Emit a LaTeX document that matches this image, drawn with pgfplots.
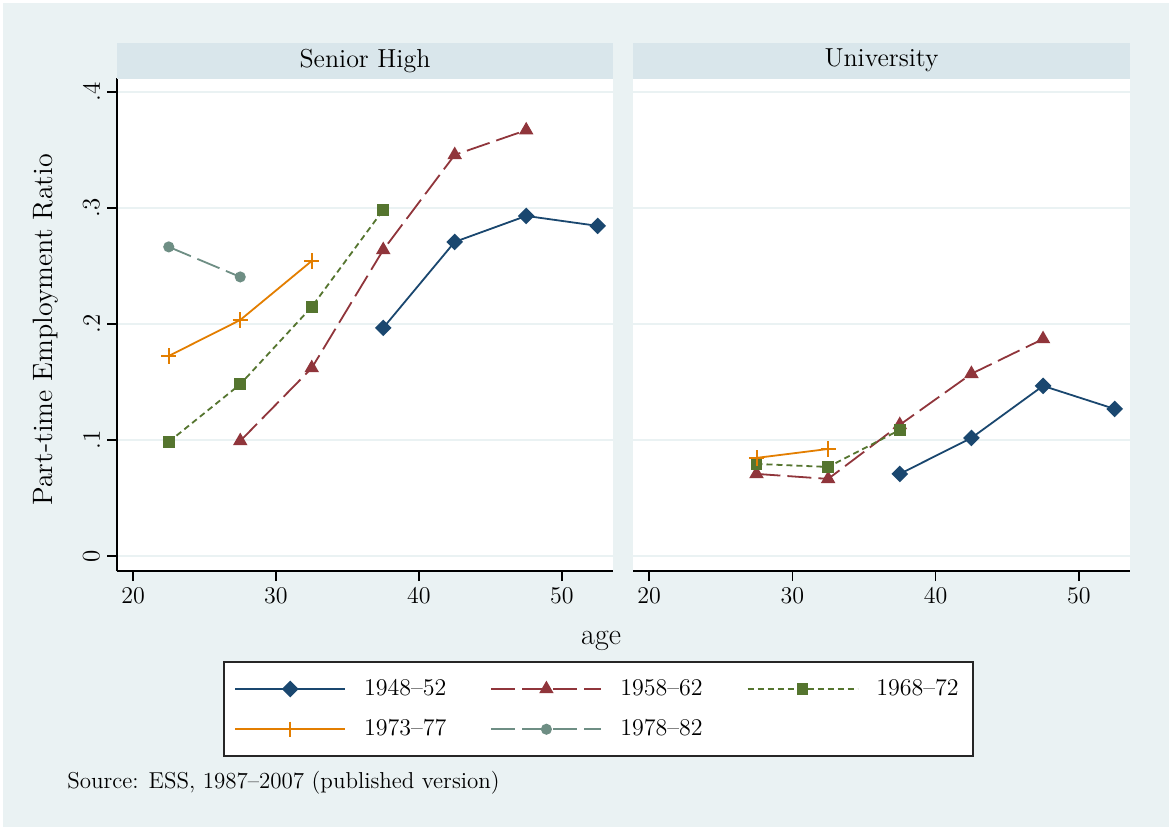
\documentclass[border=0pt]{standalone}
\usepackage{pgfplots}
\pgfplotsset{compat=1.18}
\definecolor{bgc}{HTML}{EAF2F3}
\definecolor{stripc}{HTML}{D9E6EB}
\definecolor{gridc}{HTML}{EAF2F3}
\definecolor{cnavy}{HTML}{1A476F}
\definecolor{cmaroon}{HTML}{90353B}
\definecolor{cgreen}{HTML}{55752F}
\definecolor{corange}{HTML}{E37E00}
\definecolor{cteal}{HTML}{6E8E84}
\pgfplotsset{
  panel/.style={
    scale only axis, width=248pt, height=246.5pt,
    xmin=18.88, xmax=53.57, ymin=-0.013, ymax=0.412,
    axis x line*=bottom, axis y line*=left,
    axis line style={-, black, line width=0.8pt},
    xtick={20,30,40,50}, ytick={0,0.1,0.2,0.3,0.4},
    tick align=outside, major tick length=5pt,
    major tick style={black, line width=0.8pt},
    ymajorgrids, grid style={gridc, line width=1pt},
    axis background/.style={fill=white},
    ticklabel style={font=\fontsize{12.5}{14}\selectfont},
    title style={at={(0.5,1)}, anchor=south, yshift=-6.5pt, fill=stripc,
      minimum width=248pt, minimum height=18pt, inner sep=0pt,
      font=\fontsize{13}{15}\selectfont},
    clip=false,
  },
  s1/.style={cnavy, line width=0.9pt, mark=square*, mark size=2.5pt, mark options={rotate=45, solid, fill=cnavy}},
  s2/.style={cmaroon, line width=0.9pt, dash pattern=on 12pt off 3.5pt, mark=triangle*, mark size=3.3pt, mark options={solid, fill=cmaroon}},
  s3/.style={cgreen, line width=0.9pt, dash pattern=on 3pt off 2pt, mark=square*, mark size=2.5pt, mark options={solid, fill=cgreen}},
  s4/.style={corange, line width=0.9pt, mark=+, mark size=3.8pt, mark options={solid, line width=1pt}},
  s5/.style={cteal, line width=0.9pt, dash pattern=on 12pt off 3.5pt, mark=*, mark size=2.3pt, mark options={solid, fill=cteal, draw=cteal}},
}
\begin{document}
\begin{tikzpicture}
\useasboundingbox (0,0) rectangle (584.5pt,413.5pt);
\fill[bgc] (0,0) rectangle (584.5pt,413.5pt);
\draw[white, line width=1.5pt] (0.75pt,0) -- (0.75pt,412.75pt) -- (584.5pt,412.75pt);
\begin{axis}[panel, at={(58.5pt,128pt)}, anchor=south west,
  title={Senior High},
  yticklabels={0,.1,.2,.3,.4},
  yticklabel style={rotate=90, anchor=south},
  ylabel={Part-time Employment Ratio},
  ylabel style={at={(axis description cs:-0.143,0.489)}, anchor=center, rotate=0, font=\fontsize{14}{16}\selectfont},
  xlabel={age},
  xlabel style={at={(axis description cs:0.976,-0.142)}, anchor=center, font=\fontsize{15}{17}\selectfont},
  legend columns=3,
  legend cell align=left,
  legend style={name=leg, at={(axis description cs:0.2157,-0.1846)}, anchor=north west,
    draw=none, fill=white, inner xsep=5pt, inner ysep=6.5pt,
    row sep=6.5pt, font=\fontsize{12}{14}\selectfont,
    nodes={inner sep=2pt},
    /tikz/every odd column/.append style={column sep=7pt},
    /tikz/every even column/.append style={column sep=20pt}},
  legend image code/.code={\draw[mark repeat=2,mark phase=2] plot coordinates {(0pt,0pt) (27.5pt,0pt) (55pt,0pt)};},
]
\addplot[s1] coordinates {(37.5,0.1966) (42.5,0.2707) (47.5,0.2931) (52.5,0.2845)};
\addlegendentry{1948--52}
\addplot[s2] coordinates {(27.5,0.0991) (32.5,0.1620) (37.5,0.2638) (42.5,0.3457) (47.5,0.3670)};
\addlegendentry{1958--62}
\addplot[s3] coordinates {(22.5,0.0983) (27.5,0.1480) (32.5,0.2147) (37.5,0.2983)};
\addlegendentry{1968--72}
\addplot[s4] coordinates {(22.5,0.1724) (27.5,0.2034) (32.5,0.2543)};
\addlegendentry{1973--77}
\addplot[s5] coordinates {(22.5,0.2664) (27.5,0.2405)};
\addlegendentry{1978--82}
\end{axis}
\draw[black!85, line width=0.8pt] (leg.south west) rectangle (leg.north east);
\begin{axis}[panel, at={(316.5pt,128pt)}, anchor=south west, width=248.5pt,
  title={University},
  title style={minimum width=248.5pt},
  yticklabels={},
  y axis line style={draw=none},
  ytick style={draw=none},
]
\addplot[s1] coordinates {(37.5,0.0707) (42.5,0.1017) (47.5,0.1466) (52.5,0.1267)};
\addplot[s2] coordinates {(27.5,0.0707) (32.5,0.0664) (37.5,0.1130) (42.5,0.1570) (47.5,0.1870)};
\addplot[s3] coordinates {(27.5,0.0793) (32.5,0.0767) (37.5,0.1086)};
\addplot[s4] coordinates {(27.5,0.0845) (32.5,0.0922)};
\end{axis}
\node[anchor=west, font=\fontsize{11.5}{13}\selectfont, inner sep=0pt] at (33.5pt,22pt) {Source: ESS, 1987--2007 (published version)};
\end{tikzpicture}
\end{document}
